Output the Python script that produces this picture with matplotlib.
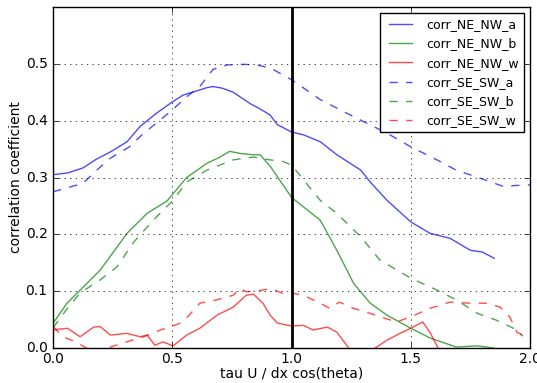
import matplotlib
matplotlib.use("Agg")
import matplotlib.pyplot as plt
import numpy as np

plt.style.use("classic")

# corr_NE_NW_a
x_ne_a = [0.0, 0.06, 0.126, 0.18, 0.24, 0.31, 0.365, 0.43, 0.5, 0.545, 0.6, 0.645, 0.67, 0.71, 0.755,
          0.826, 0.87, 0.91, 0.94, 1.0, 1.05, 1.12, 1.19, 1.29, 1.33, 1.40, 1.50, 1.58, 1.665, 1.75, 1.80, 1.85]
y_ne_a = [0.305, 0.308, 0.317, 0.332, 0.345, 0.363, 0.39, 0.412, 0.433, 0.445, 0.452, 0.458, 0.46, 0.457, 0.45,
          0.43, 0.42, 0.41, 0.393, 0.38, 0.375, 0.363, 0.34, 0.313, 0.292, 0.26, 0.222, 0.202, 0.193, 0.172, 0.169, 0.158]

# corr_SE_SW_a
x_se_a = [0.0, 0.06, 0.126, 0.18, 0.24, 0.32, 0.38, 0.44, 0.5, 0.56, 0.615, 0.67, 0.73, 0.8, 0.85, 0.91,
          0.965, 1.0, 1.12, 1.26, 1.40, 1.50, 1.61, 1.69, 1.79, 1.89, 1.94, 2.0]
y_se_a = [0.275, 0.282, 0.29, 0.312, 0.334, 0.354, 0.378, 0.398, 0.419, 0.442, 0.46, 0.49, 0.498, 0.499, 0.498, 0.493,
          0.48, 0.472, 0.437, 0.407, 0.378, 0.354, 0.331, 0.313, 0.299, 0.284, 0.286, 0.287]

# corr_NE_NW_b
x_ne_b = [0.0, 0.058, 0.113, 0.197, 0.31, 0.394, 0.478, 0.52, 0.56, 0.645, 0.70, 0.74, 0.79, 0.84, 0.868, 0.91,
          1.0, 1.12, 1.19, 1.26, 1.33, 1.40, 1.50, 1.58, 1.69, 1.78, 1.85]
y_ne_b = [0.044, 0.079, 0.102, 0.137, 0.202, 0.237, 0.259, 0.28, 0.30, 0.325, 0.336, 0.346, 0.342, 0.34, 0.34, 0.32,
          0.265, 0.225, 0.172, 0.114, 0.079, 0.058, 0.035, 0.018, 0.002, 0.004, 0.0]

# corr_SE_SW_b
x_se_b = [0.0, 0.06, 0.113, 0.197, 0.268, 0.335, 0.42, 0.503, 0.56, 0.645, 0.755, 0.84, 0.91, 0.965, 1.0, 1.05,
          1.12, 1.19, 1.29, 1.37, 1.50, 1.61, 1.69, 1.78, 1.86, 1.93, 1.97]
y_se_b = [0.036, 0.07, 0.097, 0.12, 0.143, 0.185, 0.225, 0.26, 0.292, 0.313, 0.331, 0.336, 0.331, 0.328, 0.322, 0.296,
          0.26, 0.237, 0.196, 0.155, 0.123, 0.102, 0.085, 0.061, 0.049, 0.035, 0.021]

# corr_NE_NW_w
x_ne_w = [0.0, 0.06, 0.113, 0.17, 0.197, 0.24, 0.31, 0.365, 0.394, 0.427, 0.46, 0.503, 0.56, 0.615, 0.687, 0.755,
          0.81, 0.84, 0.88, 0.91, 0.94, 1.0, 1.05, 1.09, 1.15, 1.19, 1.24, 1.30, 1.35, 1.40, 1.455, 1.50, 1.55, 1.58,
          1.615, 1.70, 1.85]
y_ne_w = [0.032, 0.035, 0.02, 0.037, 0.038, 0.023, 0.026, 0.02, 0.023, 0.005, 0.011, 0.004, 0.023, 0.035, 0.058, 0.072,
          0.093, 0.095, 0.079, 0.058, 0.044, 0.039, 0.04, 0.032, 0.037, 0.028, 0.0, -0.02, 0.0, 0.014, 0.026, 0.035, 0.046,
          0.028, 0.0, -0.03, -0.04]

# corr_SE_SW_w
x_se_w = [0.0, 0.04, 0.1, 0.14, 0.18, 0.226, 0.3, 0.38, 0.45, 0.49, 0.545, 0.615, 0.687, 0.755, 0.784, 0.81, 0.88,
          0.91, 0.965, 1.0, 1.05, 1.12, 1.16, 1.20, 1.26, 1.33, 1.44, 1.50, 1.58, 1.665, 1.75, 1.82, 1.875, 1.915, 1.945,
          1.97]
y_se_w = [0.038, 0.02, 0.01, 0.0, -0.01, 0.0, 0.01, 0.02, 0.032, 0.037, 0.046, 0.079, 0.085, 0.093, 0.105, 0.099, 0.102,
          0.105, 0.096, 0.097, 0.093, 0.079, 0.07, 0.081, 0.07, 0.061, 0.046, 0.055, 0.07, 0.081, 0.079, 0.079, 0.072,
          0.055, 0.028, 0.023]

fig = plt.figure(figsize=(5.37, 3.83), dpi=100, facecolor="white")
ax = fig.add_axes([0.099, 0.091, 0.888, 0.891])

ax.plot(x_ne_a, y_ne_a, "b-", alpha=0.7, label="corr_NE_NW_a")
ax.plot(x_ne_b, y_ne_b, "g-", alpha=0.7, label="corr_NE_NW_b")
ax.plot(x_ne_w, y_ne_w, "r-", alpha=0.7, label="corr_NE_NW_w")
ax.plot(x_se_a, y_se_a, "b--", alpha=0.7, label="corr_SE_SW_a")
ax.plot(x_se_b, y_se_b, "g--", alpha=0.7, label="corr_SE_SW_b")
ax.plot(x_se_w, y_se_w, "r--", alpha=0.7, label="corr_SE_SW_w")
ax.axvline(1.0, color="k", linewidth=2)

ax.set_xlim(0, 2.0)
ax.set_ylim(0, 0.6)
ax.set_xticks([0.0, 0.5, 1.0, 1.5, 2.0])
ax.set_yticks([0.0, 0.1, 0.2, 0.3, 0.4, 0.5])
ax.tick_params(labelsize=10)
ax.tick_params(axis="x", pad=3)
ax.grid(True)
ax.set_xlabel("tau U / dx cos(theta)", fontsize=10, labelpad=0)
ax.set_ylabel("correlation coefficient", fontsize=10, labelpad=2)
ax.legend(loc="upper right", fontsize=9, handlelength=2.5)

fig.savefig("out.png", dpi=100, facecolor="white")
